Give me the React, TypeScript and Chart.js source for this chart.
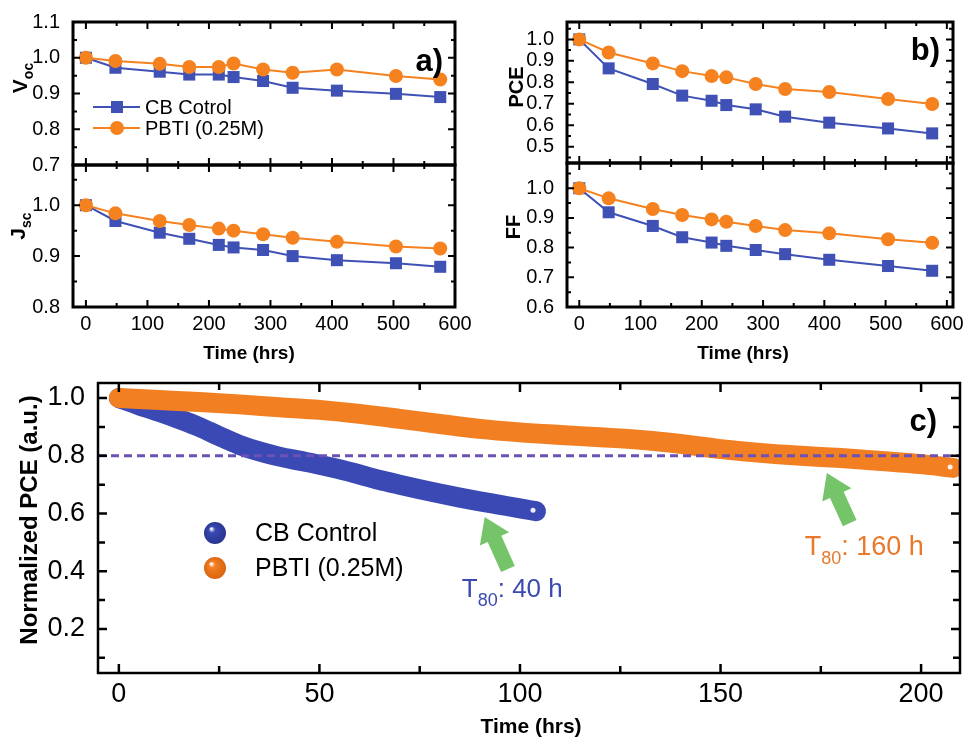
import React, { useEffect, useRef } from "react";
import { Chart, registerables } from "chart.js";

Chart.register(...registerables);

// ---------------- data ----------------
const agingHours = [0, 48, 120, 168, 216, 240, 288, 336, 408, 504, 576];
const vocControl = [1.0, 0.972, 0.961, 0.953, 0.953, 0.946, 0.935, 0.916, 0.908, 0.899, 0.89];
const vocPBTI = [1.0, 0.991, 0.983, 0.974, 0.974, 0.984, 0.967, 0.958, 0.967, 0.949, 0.939];
const jscControl = [1.0, 0.969, 0.946, 0.934, 0.922, 0.917, 0.912, 0.9, 0.892, 0.886, 0.879];
const jscPBTI = [1.0, 0.984, 0.969, 0.961, 0.954, 0.95, 0.943, 0.936, 0.928, 0.919, 0.915];
const pceControl = [1.0, 0.865, 0.792, 0.738, 0.714, 0.694, 0.674, 0.64, 0.612, 0.585, 0.562];
const pcePBTI = [1.0, 0.939, 0.888, 0.852, 0.829, 0.823, 0.792, 0.769, 0.755, 0.722, 0.699];
const ffControl = [1.0, 0.919, 0.873, 0.835, 0.817, 0.806, 0.792, 0.778, 0.759, 0.738, 0.722];
const ffPBTI = [1.0, 0.966, 0.93, 0.91, 0.895, 0.887, 0.873, 0.859, 0.848, 0.828, 0.816];

const smallLegend = ["CB Cotrol", "PBTI (0.25M)"];
const bigLegend = ["CB Control", "PBTI (0.25M)"];

const controlHours = [0, 5, 10, 15, 20, 25, 30, 35, 40, 45, 50, 55, 60, 65, 70, 75, 80, 85, 90, 95, 100, 104];
const controlPCE = [1.0, 0.975, 0.952, 0.927, 0.9, 0.868, 0.838, 0.815, 0.797, 0.783, 0.769, 0.753, 0.735, 0.716, 0.7, 0.684, 0.669, 0.655, 0.642, 0.63, 0.618, 0.608];
const pbtiHours = [0, 10, 20, 30, 40, 50, 60, 70, 80, 90, 100, 110, 120, 130, 140, 150, 160, 170, 180, 190, 200, 208];
const pbtiPCE = [1.0, 0.993, 0.986, 0.978, 0.968, 0.959, 0.945, 0.928, 0.91, 0.893, 0.881, 0.872, 0.864, 0.855, 0.841, 0.823, 0.81, 0.8, 0.792, 0.782, 0.771, 0.758];
const t80Level = 0.8;

const xTicksSmall = [0, 100, 200, 300, 400, 500, 600];
const xMinorSmall = [50, 150, 250, 350, 450, 550];
const vocTicks = [0.7, 0.8, 0.9, 1.0, 1.1];
const vocMinor = [0.75, 0.85, 0.95, 1.05];
const jscTicks = [0.8, 0.9, 1.0];
const jscMinor = [0.85, 0.95, 1.05];
const pceTicks = [0.5, 0.6, 0.7, 0.8, 0.9, 1.0];
const pceMinor = [0.45, 0.55, 0.65, 0.75, 0.85, 0.95, 1.05];
const ffTicks = [0.6, 0.7, 0.8, 0.9, 1.0];
const ffMinor = [0.65, 0.75, 0.85, 0.95, 1.05];
const xTicksBig = [0, 50, 100, 150, 200];
const xMinorBig = [25, 75, 125, 175];
const yTicksBig = [0.2, 0.4, 0.6, 0.8, 1.0];
const yMinorBig = [0.1, 0.3, 0.5, 0.7, 0.9];

// ---------------- style ----------------
const W = 964;
const H = 738;
const FONT = "'Liberation Sans', Arial, Helvetica, sans-serif";
const BLUE = "#3f51b5";
const ORANGE = "#f5821f";
const BAND_BLUE = "#3a49b4";
const BAND_ORANGE = "#f27f22";
const DASH = "#6c52b4";
const GREEN = "#76c46a";
const Y_AXIS_W = 70;

const zip = (xs: number[], ys: number[]) => xs.map((x, i) => ({ x, y: ys[i] }));

function rotTitle(ctx: any, main: string, sub: string, baseX: number, cy: number, size: number) {
  ctx.save();
  const subSize = Math.round(size * 0.68);
  ctx.font = `bold ${size}px ${FONT}`;
  const mw = ctx.measureText(main).width;
  ctx.font = `bold ${subSize}px ${FONT}`;
  const sw = sub ? ctx.measureText(sub).width : 0;
  const total = mw + sw;
  ctx.translate(baseX, cy);
  ctx.rotate(-Math.PI / 2);
  ctx.fillStyle = "#000";
  ctx.textAlign = "left";
  ctx.textBaseline = "alphabetic";
  ctx.font = `bold ${size}px ${FONT}`;
  ctx.fillText(main, -total / 2, 0);
  if (sub) {
    ctx.font = `bold ${subSize}px ${FONT}`;
    ctx.fillText(sub, -total / 2 + mw, size * 0.28);
  }
  ctx.restore();
}

function plainText(ctx: any, text: string, x: number, y: number, font: string, align: string, color = "#000") {
  ctx.save();
  ctx.font = font;
  ctx.fillStyle = color;
  ctx.textAlign = align;
  ctx.textBaseline = "alphabetic";
  ctx.fillText(text, x, y);
  ctx.restore();
}

function subLabel(ctx: any, x: number, y: number, main: string, sub: string, rest: string, size: number, color: string) {
  ctx.save();
  ctx.fillStyle = color;
  ctx.textAlign = "left";
  ctx.textBaseline = "alphabetic";
  ctx.font = `${size}px ${FONT}`;
  ctx.fillText(main, x, y);
  let cx = x + ctx.measureText(main).width;
  ctx.font = `${Math.round(size * 0.68)}px ${FONT}`;
  ctx.fillText(sub, cx, y + size * 0.34);
  cx += ctx.measureText(sub).width;
  ctx.font = `${size}px ${FONT}`;
  ctx.fillText(rest, cx, y);
  ctx.restore();
}

function arrow(ctx: any, x1: number, y1: number, x2: number, y2: number, shaftW: number, headW: number, headL: number, color: string) {
  const dx = x2 - x1, dy = y2 - y1;
  const len = Math.hypot(dx, dy);
  const ux = dx / len, uy = dy / len;
  const nx = -uy, ny = ux;
  const bx = x2 - ux * headL, by = y2 - uy * headL;
  ctx.save();
  ctx.fillStyle = color;
  ctx.beginPath();
  ctx.moveTo(x1 + (nx * shaftW) / 2, y1 + (ny * shaftW) / 2);
  ctx.lineTo(bx + (nx * shaftW) / 2, by + (ny * shaftW) / 2);
  ctx.lineTo(bx + (nx * headW) / 2, by + (ny * headW) / 2);
  ctx.lineTo(x2, y2);
  ctx.lineTo(bx - (nx * headW) / 2, by - (ny * headW) / 2);
  ctx.lineTo(bx - (nx * shaftW) / 2, by - (ny * shaftW) / 2);
  ctx.lineTo(x1 - (nx * shaftW) / 2, y1 - (ny * shaftW) / 2);
  ctx.closePath();
  ctx.fill();
  ctx.restore();
}

function sphere(ctx: any, x: number, y: number, r: number, base: string, dark: string) {
  ctx.save();
  const g = ctx.createRadialGradient(x - r * 0.35, y - r * 0.4, r * 0.05, x, y, r);
  g.addColorStop(0, "#ffffff");
  g.addColorStop(0.25, base);
  g.addColorStop(1, dark);
  ctx.fillStyle = g;
  ctx.beginPath();
  ctx.arc(x, y, r, 0, Math.PI * 2);
  ctx.fill();
  ctx.restore();
}

interface PanelSpec {
  box: { l: number; t: number; r: number; b: number };
  xRange: [number, number];
  yRange: [number, number];
  xTicks: number[];
  xMinor: number[];
  yTicks: number[];
  yMinor: number[];
  showX: boolean;
  xH: number;
  tickFont: number;
  xPad: number;
  yPad: number;
  majorLen: number;
  minorLen: number;
  tickWidth: number;
  frameWidth: number;
  xFmt: (v: number) => string;
  datasets: any[];
  decor: (chart: any, ctx: any) => void;
}

function buildConfig(p: PanelSpec): any {
  const xH = p.showX ? p.xH : 0;
  const zeroPad = (s: any) => {
    s.paddingLeft = 0;
    s.paddingRight = 0;
    s.paddingTop = 0;
    s.paddingBottom = 0;
  };
  return {
    type: "line",
    data: { datasets: p.datasets },
    options: {
      responsive: false,
      animation: false,
      events: [],
      layout: {
        padding: { left: p.box.l - Y_AXIS_W, top: p.box.t, right: W - p.box.r, bottom: H - p.box.b - xH },
      },
      plugins: { legend: { display: false }, tooltip: { enabled: false } },
      scales: {
        x: {
          type: "linear",
          min: p.xRange[0],
          max: p.xRange[1],
          grid: { display: false },
          border: { display: false },
          ticks: {
            display: p.showX,
            color: "#000",
            font: { family: FONT, size: p.tickFont },
            padding: p.xPad,
            maxRotation: 0,
            autoSkip: false,
            callback: (v: any) => p.xFmt(Number(v)),
          },
          afterBuildTicks: (s: any) => {
            s.ticks = p.xTicks.map((v) => ({ value: v }));
          },
          afterFit: (s: any) => {
            s.height = xH;
            zeroPad(s);
          },
        },
        y: {
          type: "linear",
          min: p.yRange[0],
          max: p.yRange[1],
          grid: { display: false },
          border: { display: false },
          ticks: {
            color: "#000",
            font: { family: FONT, size: p.tickFont },
            padding: p.yPad,
            autoSkip: false,
            callback: (v: any) => Number(v).toFixed(1),
          },
          afterBuildTicks: (s: any) => {
            s.ticks = p.yTicks.map((v) => ({ value: v }));
          },
          afterFit: (s: any) => {
            s.width = Y_AXIS_W;
            zeroPad(s);
          },
        },
      },
    },
    plugins: [
      {
        id: "frameTicks",
        afterDatasetsDraw(chart: any) {
          const ctx = chart.ctx;
          const { left, right, top, bottom } = chart.chartArea;
          const xs = chart.scales.x;
          const ys = chart.scales.y;
          ctx.save();
          ctx.strokeStyle = "#000";
          ctx.lineWidth = p.tickWidth;
          ctx.beginPath();
          const addX = (vals: number[], len: number) =>
            vals.forEach((v) => {
              const px = xs.getPixelForValue(v);
              if (px < left - 0.5 || px > right + 0.5) return;
              ctx.moveTo(px, bottom);
              ctx.lineTo(px, bottom - len);
              ctx.moveTo(px, top);
              ctx.lineTo(px, top + len);
            });
          const addY = (vals: number[], len: number) =>
            vals.forEach((v) => {
              const py = ys.getPixelForValue(v);
              if (py < top - 0.5 || py > bottom + 0.5) return;
              ctx.moveTo(left, py);
              ctx.lineTo(left + len, py);
              ctx.moveTo(right, py);
              ctx.lineTo(right - len, py);
            });
          addX(p.xTicks, p.majorLen);
          addX(p.xMinor, p.minorLen);
          addY(p.yTicks, p.majorLen);
          addY(p.yMinor, p.minorLen);
          ctx.stroke();
          ctx.lineWidth = p.frameWidth;
          ctx.strokeRect(left, top, right - left, bottom - top);
          ctx.restore();
        },
        afterDraw(chart: any) {
          p.decor(chart, chart.ctx);
        },
      },
    ],
  };
}

function smallDatasets(ctrl: number[], pbti: number[]) {
  return [
    {
      label: smallLegend[1],
      data: zip(agingHours, pbti),
      borderColor: ORANGE,
      backgroundColor: ORANGE,
      borderWidth: 2,
      pointStyle: "circle",
      pointRadius: 7,
      pointBorderWidth: 0,
      order: 1,
    },
    {
      label: smallLegend[0],
      data: zip(agingHours, ctrl),
      borderColor: BLUE,
      backgroundColor: BLUE,
      borderWidth: 2,
      pointStyle: "rect",
      pointRadius: 8.5,
      pointBorderWidth: 0,
      order: 2,
    },
  ];
}

const smallBase = {
  xTicks: xTicksSmall,
  xMinor: xMinorSmall,
  xH: 40,
  tickFont: 20,
  xPad: -3,
  yPad: 5,
  majorLen: 7,
  minorLen: 4,
  tickWidth: 2,
  frameWidth: 3,
  xFmt: (v: number) => String(v),
};

const timeTitleFont = `bold 19px ${FONT}`;

const buildVoc = () =>
  buildConfig({
    ...smallBase,
    box: { l: 73, t: 22, r: 455, b: 165 },
    xRange: [-21, 600],
    yRange: [0.7, 1.1],
    yTicks: vocTicks,
    yMinor: vocMinor,
    showX: false,
    datasets: smallDatasets(vocControl, vocPBTI),
    decor: (chart, ctx) => {
      rotTitle(ctx, "V", "oc", 27, 78, 21);
      plainText(ctx, "a)", 443, 71, `bold 31px ${FONT}`, "right");
      // legend
      const rows = [
        { y: 107, color: BLUE, label: smallLegend[0], style: "rect", r: 8.5 },
        { y: 128, color: ORANGE, label: smallLegend[1], style: "circle", r: 7 },
      ];
      rows.forEach((row) => {
        ctx.save();
        ctx.strokeStyle = row.color;
        ctx.lineWidth = 2;
        ctx.beginPath();
        ctx.moveTo(93, row.y);
        ctx.lineTo(140, row.y);
        ctx.stroke();
        ctx.fillStyle = row.color;
        if (row.style === "rect") {
          const s = row.r * Math.SQRT1_2;
          ctx.fillRect(117 - s, row.y - s, 2 * s, 2 * s);
        } else {
          ctx.beginPath();
          ctx.arc(117, row.y, row.r, 0, Math.PI * 2);
          ctx.fill();
        }
        ctx.font = `20px ${FONT}`;
        ctx.fillStyle = "#000";
        ctx.textAlign = "left";
        ctx.textBaseline = "middle";
        ctx.fillText(row.label, 145, row.y + 1);
        ctx.restore();
      });
    },
  });

const buildJsc = () =>
  buildConfig({
    ...smallBase,
    box: { l: 73, t: 165, r: 455, b: 307 },
    xRange: [-21, 600],
    yRange: [0.8, 1.079],
    yTicks: jscTicks,
    yMinor: jscMinor,
    showX: true,
    datasets: smallDatasets(jscControl, jscPBTI),
    decor: (chart, ctx) => {
      rotTitle(ctx, "J", "sc", 25, 226, 21);
      plainText(ctx, "Time (hrs)", 249, 359, timeTitleFont, "center");
    },
  });

const buildPce = () =>
  buildConfig({
    ...smallBase,
    box: { l: 567, t: 22, r: 953, b: 163 },
    xRange: [-20, 610],
    yRange: [0.424, 1.081],
    yTicks: pceTicks,
    yMinor: pceMinor,
    showX: false,
    datasets: smallDatasets(pceControl, pcePBTI),
    decor: (chart, ctx) => {
      rotTitle(ctx, "PCE", "", 523, 87, 20);
      plainText(ctx, "b)", 940, 60, `bold 31px ${FONT}`, "right");
    },
  });

const buildFf = () =>
  buildConfig({
    ...smallBase,
    box: { l: 567, t: 163, r: 953, b: 307 },
    xRange: [-20, 610],
    yRange: [0.6, 1.085],
    yTicks: ffTicks,
    yMinor: ffMinor,
    showX: true,
    datasets: smallDatasets(ffControl, ffPBTI),
    decor: (chart, ctx) => {
      rotTitle(ctx, "FF", "", 520, 227, 20);
      plainText(ctx, "Time (hrs)", 743, 359, timeTitleFont, "center");
    },
  });

const C_X: [number, number] = [-5.2, 209.7];
const C_Y: [number, number] = [0.0476, 1.052];

const bandStyle = {
  borderWidth: 20,
  borderCapStyle: "round",
  borderJoinStyle: "round",
  cubicInterpolationMode: "monotone",
  pointRadius: 0,
};

const buildBig = () =>
  buildConfig({
    box: { l: 98, t: 383, r: 960, b: 673 },
    xRange: C_X,
    yRange: C_Y,
    xTicks: xTicksBig,
    xMinor: xMinorBig,
    yTicks: yTicksBig,
    yMinor: yMinorBig,
    showX: true,
    xH: 60,
    tickFont: 27,
    xPad: -3,
    yPad: 5,
    majorLen: 9,
    minorLen: 7,
    tickWidth: 2.5,
    frameWidth: 2.5,
    xFmt: (v: number) => String(v),
    datasets: [
      {
        label: "T80",
        data: [
          { x: C_X[0], y: t80Level },
          { x: C_X[1], y: t80Level },
        ],
        borderColor: DASH,
        borderWidth: 3,
        borderDash: [8, 5],
        pointRadius: 0,
        order: 0,
      },
      {
        label: bigLegend[1],
        data: zip(pbtiHours, pbtiPCE),
        borderColor: BAND_ORANGE,
        ...bandStyle,
        order: 1,
      },
      {
        label: bigLegend[0],
        data: zip(controlHours, controlPCE),
        borderColor: BAND_BLUE,
        ...bandStyle,
        order: 2,
      },
    ],
    decor: (chart, ctx) => {
      const xs = chart.scales.x;
      const ys = chart.scales.y;
      const X = (v: number) => xs.getPixelForValue(v);
      const Y = (v: number) => ys.getPixelForValue(v);
      // end highlights
      ctx.save();
      ctx.fillStyle = "rgba(255,255,255,0.9)";
      const lb = controlHours.length - 1;
      ctx.beginPath();
      ctx.arc(X(controlHours[lb]) - 3, Y(controlPCE[lb]) - 1, 2.5, 0, Math.PI * 2);
      ctx.fill();
      const lo = pbtiHours.length - 1;
      ctx.beginPath();
      ctx.arc(X(pbtiHours[lo]) - 3, Y(pbtiPCE[lo]) - 1, 2.5, 0, Math.PI * 2);
      ctx.fill();
      ctx.restore();

      rotTitle(ctx, "Normalized PCE (a.u.)", "", 37, 520, 24);
      plainText(ctx, "Time (hrs)", 531, 733, `bold 21px ${FONT}`, "center");
      plainText(ctx, "c)", 937, 431, `bold 31px ${FONT}`, "right");

      // legend
      sphere(ctx, 215, 533, 11, BAND_BLUE, "#2a3590");
      sphere(ctx, 215, 568, 11, BAND_ORANGE, "#d9650f");
      ctx.save();
      ctx.font = `25px ${FONT}`;
      ctx.fillStyle = "#000";
      ctx.textAlign = "left";
      ctx.textBaseline = "middle";
      ctx.fillText(bigLegend[0], 255, 534);
      ctx.fillText(bigLegend[1], 255, 569);
      ctx.restore();

      // arrows
      arrow(ctx, X(97.0), Y(0.408), X(91.2), Y(0.588), 15, 32, 24, GREEN);
      arrow(ctx, X(182.2), Y(0.567), X(176.5), Y(0.74), 15, 32, 24, GREEN);

      // T80 labels
      subLabel(ctx, X(85.5), Y(0.31), "T", "80", ": 40 h", 26, "#3a4ab0");
      subLabel(ctx, X(171), Y(0.457), "T", "80", ": 160 h", 27, "#e8792c");
    },
  });

function ChartCanvas({ build }: { build: () => any }) {
  const ref = useRef<HTMLCanvasElement | null>(null);
  useEffect(() => {
    if (!ref.current) return;
    const chart = new Chart(ref.current, build());
    return () => chart.destroy();
  }, [build]);
  return (
    <canvas
      ref={ref}
      width={W}
      height={H}
      style={{ position: "absolute", left: 0, top: 0, width: W, height: H }}
    />
  );
}

const builders = [buildVoc, buildJsc, buildPce, buildFf, buildBig];

export default function App() {
  return (
    <div
      style={{
        position: "absolute",
        left: 0,
        top: 0,
        width: W,
        height: H,
        background: "#fff",
        overflow: "hidden",
      }}
    >
      {builders.map((b, i) => (
        <ChartCanvas key={i} build={b} />
      ))}
    </div>
  );
}
